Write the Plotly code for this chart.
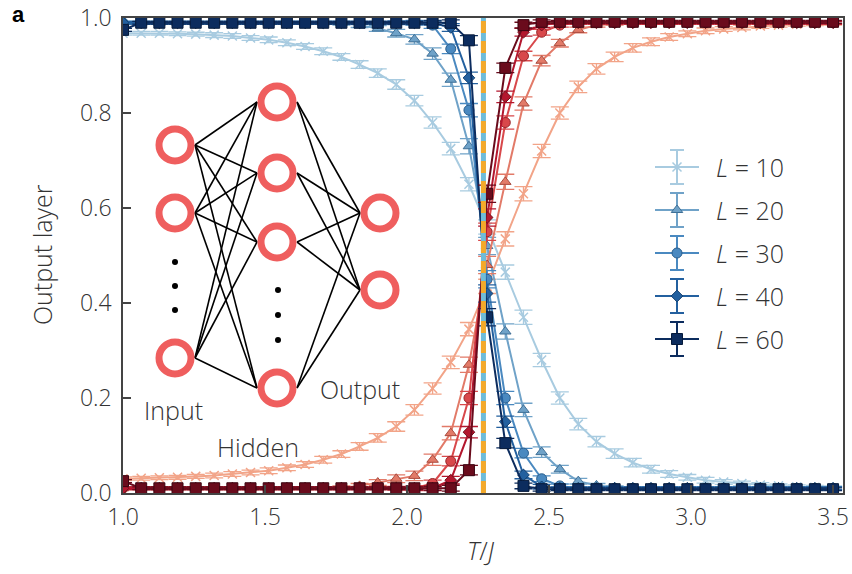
import plotly.graph_objects as go

# ---------------- data ----------------
T = [1.000, 1.064, 1.128, 1.192, 1.256, 1.321, 1.385, 1.449, 1.513, 1.577,
     1.641, 1.705, 1.769, 1.833, 1.897, 1.962, 2.026, 2.090, 2.154, 2.218,
     2.282, 2.346, 2.410, 2.474, 2.538, 2.603, 2.667, 2.731, 2.795, 2.859,
     2.923, 2.987, 3.051, 3.115, 3.179, 3.244, 3.308, 3.372, 3.436, 3.500]

TC = 2.269

L_LABELS = ["10", "20", "30", "40", "60"]

# low-temperature output neuron (blue)
B10 = [0.968, 0.968, 0.968, 0.967, 0.966, 0.964, 0.962, 0.958, 0.954, 0.948,
       0.940, 0.930, 0.918, 0.902, 0.884, 0.860, 0.826, 0.780, 0.725, 0.650,
       0.560, 0.465, 0.370, 0.280, 0.200, 0.145, 0.108, 0.083, 0.064, 0.050,
       0.040, 0.033, 0.027, 0.023, 0.020, 0.017, 0.015, 0.013, 0.012, 0.011]
B20 = [0.990, 0.990, 0.990, 0.990, 0.990, 0.990, 0.990, 0.990, 0.990, 0.990,
       0.990, 0.990, 0.989, 0.985, 0.978, 0.968, 0.955, 0.925, 0.870, 0.730,
       0.520, 0.340, 0.175, 0.086, 0.050, 0.025, 0.016, 0.012, 0.010, 0.010,
       0.010, 0.010, 0.010, 0.010, 0.010, 0.010, 0.010, 0.010, 0.010, 0.010]
B30 = [0.990, 0.990, 0.990, 0.990, 0.990, 0.990, 0.990, 0.990, 0.990, 0.990,
       0.990, 0.990, 0.990, 0.990, 0.990, 0.990, 0.990, 0.985, 0.935, 0.806,
       0.450, 0.200, 0.084, 0.030, 0.015, 0.010, 0.010, 0.010, 0.010, 0.010,
       0.010, 0.010, 0.010, 0.010, 0.010, 0.010, 0.010, 0.010, 0.010, 0.010]
B40 = [0.990, 0.990, 0.990, 0.990, 0.990, 0.990, 0.990, 0.990, 0.990, 0.990,
       0.990, 0.990, 0.990, 0.990, 0.990, 0.990, 0.990, 0.990, 0.980, 0.874,
       0.420, 0.150, 0.038, 0.013, 0.010, 0.010, 0.010, 0.010, 0.010, 0.010,
       0.010, 0.010, 0.010, 0.010, 0.010, 0.010, 0.010, 0.010, 0.010, 0.010]
B60 = [0.975, 0.990, 0.990, 0.990, 0.990, 0.990, 0.990, 0.990, 0.990, 0.990,
       0.990, 0.990, 0.990, 0.990, 0.990, 0.990, 0.990, 0.990, 0.990, 0.953,
       0.370, 0.105, 0.015, 0.008, 0.008, 0.008, 0.008, 0.008, 0.008, 0.008,
       0.008, 0.008, 0.008, 0.008, 0.008, 0.008, 0.008, 0.008, 0.008, 0.008]

# high-temperature output neuron (red)
R10 = [0.030, 0.031, 0.032, 0.033, 0.035, 0.037, 0.040, 0.043, 0.047, 0.053,
       0.060, 0.070, 0.082, 0.098, 0.116, 0.140, 0.175, 0.220, 0.275, 0.345,
       0.435, 0.535, 0.630, 0.720, 0.800, 0.855, 0.893, 0.918, 0.937, 0.950,
       0.960, 0.967, 0.973, 0.977, 0.980, 0.983, 0.985, 0.987, 0.988, 0.989]
R20 = [0.010, 0.010, 0.010, 0.010, 0.010, 0.010, 0.010, 0.010, 0.010, 0.010,
       0.010, 0.010, 0.011, 0.015, 0.022, 0.030, 0.036, 0.070, 0.126, 0.270,
       0.480, 0.655, 0.820, 0.910, 0.947, 0.975, 0.985, 0.988, 0.990, 0.990,
       0.990, 0.990, 0.990, 0.990, 0.990, 0.990, 0.990, 0.990, 0.990, 0.990]
R30 = [0.010, 0.010, 0.010, 0.010, 0.010, 0.010, 0.010, 0.010, 0.010, 0.010,
       0.010, 0.010, 0.010, 0.010, 0.010, 0.010, 0.010, 0.020, 0.067, 0.200,
       0.550, 0.780, 0.920, 0.970, 0.985, 0.990, 0.990, 0.990, 0.990, 0.990,
       0.990, 0.990, 0.990, 0.990, 0.990, 0.990, 0.990, 0.990, 0.990, 0.990]
R40 = [0.010, 0.010, 0.010, 0.010, 0.010, 0.010, 0.010, 0.010, 0.010, 0.010,
       0.010, 0.010, 0.010, 0.010, 0.010, 0.010, 0.010, 0.010, 0.027, 0.128,
       0.580, 0.834, 0.970, 0.985, 0.990, 0.990, 0.990, 0.990, 0.990, 0.990,
       0.990, 0.990, 0.990, 0.990, 0.990, 0.990, 0.990, 0.990, 0.990, 0.990]
R60 = [0.025, 0.010, 0.010, 0.010, 0.010, 0.010, 0.010, 0.010, 0.010, 0.010,
       0.010, 0.010, 0.010, 0.010, 0.010, 0.010, 0.010, 0.010, 0.010, 0.048,
       0.630, 0.895, 0.985, 0.992, 0.992, 0.992, 0.992, 0.992, 0.992, 0.992,
       0.992, 0.992, 0.992, 0.992, 0.992, 0.992, 0.992, 0.992, 0.992, 0.992]

# error bars (shared by both neurons of one size)
E10 = [0.004, 0.004, 0.004, 0.004, 0.004, 0.005, 0.005, 0.005, 0.006, 0.006,
       0.006, 0.007, 0.007, 0.008, 0.009, 0.010, 0.011, 0.012, 0.013, 0.014,
       0.015, 0.015, 0.015, 0.014, 0.013, 0.012, 0.011, 0.010, 0.009, 0.008,
       0.007, 0.006, 0.006, 0.005, 0.005, 0.005, 0.004, 0.004, 0.004, 0.004]
E20 = [0.003, 0.003, 0.003, 0.003, 0.003, 0.003, 0.003, 0.003, 0.003, 0.003,
       0.003, 0.003, 0.004, 0.005, 0.006, 0.008, 0.010, 0.012, 0.014, 0.016,
       0.018, 0.016, 0.014, 0.011, 0.008, 0.006, 0.004, 0.003, 0.003, 0.003,
       0.003, 0.003, 0.003, 0.003, 0.003, 0.003, 0.003, 0.003, 0.003, 0.003]
E30 = [0.003, 0.003, 0.003, 0.003, 0.003, 0.003, 0.003, 0.003, 0.003, 0.003,
       0.003, 0.003, 0.003, 0.003, 0.003, 0.004, 0.005, 0.007, 0.010, 0.014,
       0.018, 0.014, 0.010, 0.006, 0.004, 0.003, 0.003, 0.003, 0.003, 0.003,
       0.003, 0.003, 0.003, 0.003, 0.003, 0.003, 0.003, 0.003, 0.003, 0.003]
E40 = [0.003, 0.003, 0.003, 0.003, 0.003, 0.003, 0.003, 0.003, 0.003, 0.003,
       0.003, 0.003, 0.003, 0.003, 0.003, 0.003, 0.004, 0.005, 0.008, 0.012,
       0.018, 0.012, 0.008, 0.005, 0.003, 0.003, 0.003, 0.003, 0.003, 0.003,
       0.003, 0.003, 0.003, 0.003, 0.003, 0.003, 0.003, 0.003, 0.003, 0.003]
E60 = [0.003, 0.003, 0.003, 0.003, 0.003, 0.003, 0.003, 0.003, 0.003, 0.003,
       0.003, 0.003, 0.003, 0.003, 0.003, 0.003, 0.003, 0.004, 0.006, 0.010,
       0.018, 0.010, 0.006, 0.004, 0.003, 0.003, 0.003, 0.003, 0.003, 0.003,
       0.003, 0.003, 0.003, 0.003, 0.003, 0.003, 0.003, 0.003, 0.003, 0.003]

BLUE_SERIES = [B10, B20, B30, B40, B60]
RED_SERIES = [R10, R20, R30, R40, R60]
ERRORS = [E10, E20, E30, E40, E60]

# ---------------- styles ----------------
BLUE_COLORS = ["#a8cbe0", "#6fa2c8", "#4a89c0", "#23609f", "#0c2c5e"]
BLUE_EDGES = ["#a8cbe0", "#3e6f96", "#2b5f8e", "#133f6e", "#061a3a"]
RED_COLORS = ["#f2a488", "#e27a68", "#d8484b", "#b3172e", "#6a0b1c"]
RED_EDGES = ["#f2a488", "#a94b3e", "#96262a", "#70101d", "#3a0410"]
SYMBOLS = ["x-thin-open", "triangle-up", "circle", "diamond", "square"]
SIZES = [9, 10, 10, 9, 11]

FONT = "Open Sans, Noto Sans, DejaVu Sans, sans-serif"
TXT = "#333333"
NODE = "#ef5e5e"
FW = 300

W, H = 852, 574
PX_L, PX_R, PX_T, PX_B = 123, 843, 18, 493


def px(X):
    return (X - PX_L) / (PX_R - PX_L)


def py(Y):
    return (PX_B - Y) / (PX_B - PX_T)


def tfont(size, color=TXT):
    return dict(family=FONT, size=size, color=color, weight=FW)


fig = go.Figure()

for k in range(5):
    for ys, col, edge in ((BLUE_SERIES[k], BLUE_COLORS[k], BLUE_EDGES[k]),
                          (RED_SERIES[k], RED_COLORS[k], RED_EDGES[k])):
        if k == 0:
            marker = dict(symbol=SYMBOLS[k], size=SIZES[k], color=col,
                          line=dict(color=col, width=1.5))
        else:
            marker = dict(symbol=SYMBOLS[k], size=SIZES[k], color=col,
                          line=dict(color=edge, width=1))
        fig.add_trace(go.Scatter(
            x=T, y=ys, mode="lines+markers",
            line=dict(color=col, width=2),
            marker=marker,
            error_y=dict(type="data", array=ERRORS[k], visible=True,
                         color=col, thickness=1.3, width=9),
            showlegend=False, hoverinfo="skip"))


def deco(tr):
    tr.update(xaxis="x2", yaxis="y2", showlegend=False, hoverinfo="skip")
    fig.add_trace(tr)


# neural-network inset (pixel coordinates on a hidden overlay axis)
inp = [(175, 145), (175, 213), (175, 358)]
hid = [(277, 102), (277, 173), (277, 242), (277, 388)]
out = [(380, 213), (380, 290)]
R_NODE = 20
lx, ly = [], []
for a in inp:
    for b in hid:
        lx += [a[0] + R_NODE, b[0] - R_NODE, None]
        ly += [a[1], b[1], None]
for a in hid:
    for b in out:
        lx += [a[0] + R_NODE, b[0] - R_NODE, None]
        ly += [a[1], b[1], None]
deco(go.Scatter(x=lx, y=ly, mode="lines", line=dict(color="black", width=1.6)))
nodes = inp + hid + out
deco(go.Scatter(x=[p[0] for p in nodes], y=[p[1] for p in nodes], mode="markers",
                marker=dict(symbol="circle-open", size=32, color=NODE,
                            line=dict(color=NODE, width=7))))
dots = [(175, 262), (175, 286), (175, 310), (278, 290), (278, 315), (278, 340)]
deco(go.Scatter(x=[p[0] for p in dots], y=[p[1] for p in dots], mode="markers",
                marker=dict(symbol="circle", size=6, color="black")))

# custom legend
LEG_X = 677
LEG_Y = [167, 210, 253, 296, 339]
for k in range(5):
    yk = LEG_Y[k]
    col = BLUE_COLORS[k]
    deco(go.Scatter(x=[LEG_X - 22, LEG_X + 22], y=[yk, yk], mode="lines",
                    line=dict(color=col, width=2.2)))
    mk = dict(symbol=SYMBOLS[k], size=SIZES[k], color=col,
              line=dict(color=BLUE_EDGES[k] if k else col, width=1 if k else 1.5))
    deco(go.Scatter(x=[LEG_X], y=[yk], mode="markers", marker=mk,
                    error_y=dict(type="constant", value=17, visible=True,
                                 color=col, thickness=2, width=7)))

annotations = []
for k in range(5):
    annotations.append(dict(x=px(714), y=py(LEG_Y[k]), xref="paper", yref="paper",
                            text="<i>L</i> = " + L_LABELS[k], showarrow=False,
                            xanchor="left", yanchor="middle", font=tfont(25)))
for txt, x, y in (("Input", 173, 410), ("Hidden", 258, 447), ("Output", 360, 389)):
    annotations.append(dict(x=px(x), y=py(y), xref="paper", yref="paper", text=txt,
                            showarrow=False, xanchor="center", yanchor="middle",
                            font=tfont(25)))
annotations.append(dict(x=px(42), y=py(255), xref="paper", yref="paper",
                        text="Output layer", showarrow=False, textangle=-90,
                        xanchor="center", yanchor="middle", font=tfont(25)))
annotations.append(dict(x=px(481), y=py(550), xref="paper", yref="paper",
                        text="<i>T</i>/<i>J</i>", showarrow=False,
                        xanchor="center", yanchor="middle", font=tfont(25)))
annotations.append(dict(x=px(18), y=py(14), xref="paper", yref="paper",
                        text="<b>a</b>", showarrow=False, xanchor="center",
                        yanchor="middle",
                        font=dict(family="Liberation Sans, Arial, sans-serif",
                                  size=22, color="black")))

shapes = [
    dict(type="line", xref="x", yref="paper", x0=TC, x1=TC, y0=0, y1=1,
         line=dict(color="#6fbcd9", width=5), layer="above"),
    dict(type="line", xref="x", yref="paper", x0=TC, x1=TC, y0=0, y1=1,
         line=dict(color="#f4a92a", width=5, dash="12px,8px"), layer="above"),
]

axis_common = dict(showline=True, linecolor="#444", linewidth=1.5, mirror=True,
                   ticks="inside", ticklen=8, tickwidth=1.5, tickcolor="#444",
                   showgrid=False, zeroline=False, tickfont=tfont(23))

fig.update_layout(
    width=W, height=H,
    margin=dict(l=PX_L, r=W - PX_R, t=PX_T, b=H - PX_B, autoexpand=False),
    paper_bgcolor="white", plot_bgcolor="white",
    xaxis=dict(range=[1.0, 3.535], tickvals=[1.0, 1.5, 2.0, 2.5, 3.0, 3.5],
               ticktext=["1.0", "1.5", "2.0", "2.5", "3.0", "3.5"],
               ticklabelstandoff=3, **axis_common),
    yaxis=dict(range=[0, 1], tickvals=[0, 0.2, 0.4, 0.6, 0.8, 1.0],
               ticktext=["0.0", "0.2", "0.4", "0.6", "0.8", "1.0"],
               ticklabelstandoff=5, **axis_common),
    xaxis2=dict(overlaying="x", range=[PX_L, PX_R], visible=False, fixedrange=True),
    yaxis2=dict(overlaying="y", range=[PX_B, PX_T], visible=False, fixedrange=True),
    shapes=shapes, annotations=annotations,
    hovermode=False,
)

fig.write_html("out.html", config={"displayModeBar": False},
               post_script="document.body.style.margin='0';"
                           "document.body.style.overflow='hidden';")
